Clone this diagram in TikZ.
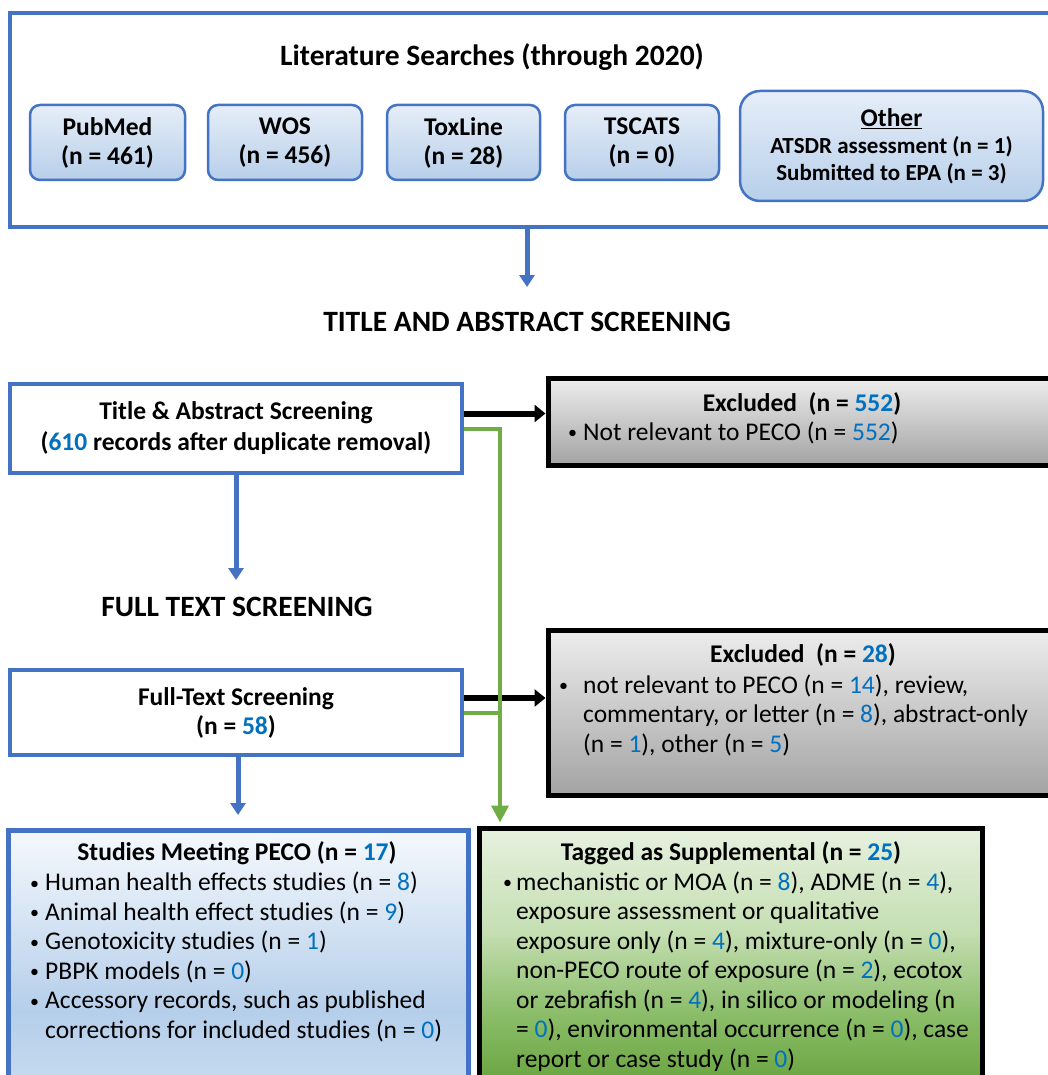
\documentclass[tikz,border=0pt]{standalone}
\usepackage{fontspec}
\setmainfont{Carlito}
\usetikzlibrary{arrows.meta}
\definecolor{bl}{HTML}{4472C4}
\definecolor{num}{HTML}{0070C0}
\definecolor{grn}{HTML}{70AD47}
\definecolor{srcTop}{HTML}{E6EEF8}
\definecolor{srcBot}{HTML}{B7CFEA}
\definecolor{studA}{HTML}{F5F9FD}
\definecolor{studB}{HTML}{B5CEEA}
\definecolor{studC}{HTML}{C8DCF0}
\definecolor{tagA}{HTML}{E6F1DF}
\definecolor{tagB}{HTML}{C4DEB1}
\definecolor{tagC}{HTML}{8CBE6B}
\definecolor{tagD}{HTML}{66A23C}
\pgfdeclareverticalshading{studshade}{100bp}{color(0bp)=(studC); color(25bp)=(studC); color(40bp)=(studB); color(75bp)=(studA); color(100bp)=(studA)}
\pgfdeclareverticalshading{tagshade}{100bp}{color(0bp)=(tagD); color(25bp)=(tagD); color(40bp)=(tagC); color(55bp)=(tagB); color(75bp)=(tagA); color(100bp)=(tagA)}
\newcommand{\nb}[1]{\textcolor{num}{#1}}
\newcommand{\bul}[1]{\makebox[#1][l]{\raisebox{1.5pt}{\fontsize{18}{18}\selectfont •}}}
\newcommand{\ind}[1]{\makebox[#1][l]{}}
\tikzset{
  bigfont/.style={font=\fontsize{29.5}{34}\selectfont\bfseries},
  midbold/.style={font=\fontsize{25.5}{29}\selectfont\bfseries},
  srcbox/.style={draw=bl, line width=2.5pt, rounded corners=10pt, top color=srcTop, bottom color=srcBot, align=center, midbold},
  bluebox/.style={draw=bl, line width=4pt, fill=white, align=center},
  greybox/.style={draw=black, line width=5pt, top color=black!7, bottom color=black!36},
  blarrow/.style={draw=bl, line width=5pt, -{Triangle[length=12pt,width=15pt]}},
  bkarrow/.style={draw=black, line width=6pt, -{Triangle[length=11pt,width=17pt]}},
  grline/.style={draw=grn, line width=4pt},
  grarrow/.style={draw=grn, line width=4pt, -{Triangle[length=17pt,width=17pt]}, shorten >=3pt},
  listtext/.style={font=\fontsize{25.5}{29.5}\selectfont, align=left, inner sep=0pt, anchor=base west},
}
\begin{document}
\begin{tikzpicture}[x=1pt,y=-1pt]
\useasboundingbox (0,0) rectangle (1048,1075);
\clip (0,0) rectangle (1048,1075);

% top section
\node[draw=bl, line width=4pt, minimum width=1050pt, minimum height=214pt] (topbox) at (535,120) {};
\node[bigfont] (littitle) at (492,57) {Literature Searches (through 2020)};
\node[srcbox, minimum width=155pt, minimum height=75pt] (pubmed) at (107.5,142.5) {PubMed\\(n = 461)};
\node[srcbox, minimum width=154pt, minimum height=75pt] (wos) at (285,142.5) {WOS\\(n = 456)};
\node[srcbox, minimum width=153pt, minimum height=75pt] (toxline) at (463.5,142.5) {ToxLine\\(n = 28)};
\node[srcbox, minimum width=154pt, minimum height=75pt] (tscats) at (642,142.5) {TSCATS\\(n = 0)};
\node[srcbox, rounded corners=20pt, minimum width=303pt, minimum height=110pt, font=\fontsize{23}{27}\selectfont\bfseries] (other) at (891.5,146) {{\fontsize{25.5}{27}\selectfont\underline{Other}}\\ATSDR assessment (n = 1)\\Submitted to EPA (n = 3)};

\coordinate (a1end) at (527,287);
\draw[blarrow] (topbox.south -| a1end) -- (a1end);
\node[bigfont] (tashead) at (527,322) {TITLE AND ABSTRACT SCREENING};

% title & abstract
\node[bluebox, font=\fontsize{25.5}{31}\selectfont\bfseries, minimum width=452pt, minimum height=89pt] (tabox) at (236,428.5) {Title \& Abstract Screening\\(\nb{610} records after duplicate removal)};
\node[greybox, minimum width=508pt, minimum height=87pt] (excl1) at (802,421.5) {};
\node[midbold] (excl1t) at (802,404) {Excluded\ \ (n = \nb{552})};
\node[listtext] (excl1l) at (568,440) {\bul{15pt}Not relevant to PECO (n = \nb{552})};
\draw[bkarrow] ([yshift=15pt]tabox.east) -- ([yshift=15pt]tabox.east -| excl1.west);

\coordinate (gx) at (500,0);

% full text
\coordinate (a2end) at (236,580);
\draw[blarrow] (tabox.south -| a2end) -- (a2end);
\node[bigfont] (fthead) at (237,607) {FULL TEXT SCREENING};
\node[bluebox, midbold, minimum width=452pt, minimum height=85pt] (ftbox) at (236,712.5) {Full-Text Screening\\(n = \nb{58})};
\node[greybox, minimum width=508pt, minimum height=165pt] (excl2) at (802,712.5) {};
\node[midbold] (excl2t) at (803,655) {Excluded\ \ (n = \nb{28})};
\node[listtext] (excl2l) at (559,752) {\bul{24pt}not relevant to PECO (n = \nb{14}), review,\\
\ind{24pt}commentary, or letter (n = \nb{8}), abstract-only\\
\ind{24pt}(n = \nb{1}), other (n = \nb{5})};
\draw[bkarrow] ([yshift=14.5pt]ftbox.east) -- ([yshift=14.5pt]ftbox.east -| excl2.west);

% studies
\coordinate (a3end) at (238,815);
\draw[blarrow] (ftbox.south -| a3end) -- (a3end);
\node[draw=bl, line width=5pt, shading=studshade, minimum width=460pt, minimum height=260pt] (studbox) at (238,960) {};
\node[midbold] (studt) at (237,853) {Studies Meeting PECO (n = \nb{17})};
\node[listtext] (studl) at (30,1038) {\bul{15pt}Human health effects studies (n = \nb{8})\\
\bul{15pt}Animal health effect studies (n = \nb{9})\\
\bul{15pt}Genotoxicity studies (n = \nb{1})\\
\bul{15pt}PBPK models (n = \nb{0})\\
\bul{15pt}Accessory records, such as published\\
\ind{15pt}corrections for included studies (n = \nb{0})};

% supplemental
\node[draw=black, line width=5pt, shading=tagshade, minimum width=503pt, minimum height=262pt] (tagbox) at (730.5,959) {};
\node[midbold] (tagt) at (731,853) {Tagged as Supplemental (n = \nb{25})};
\node[listtext] (tagl) at (503,1067) {\bul{13pt}mechanistic or MOA (n = \nb{8}), ADME (n = \nb{4}),\\
\ind{13pt}exposure assessment or qualitative\\
\ind{13pt}exposure only (n = \nb{4}), mixture-only (n = \nb{0}),\\
\ind{13pt}non-PECO route of exposure (n = \nb{2}), ecotox\\
\ind{13pt}or zebrafish (n = \nb{4}), in silico or modeling (n\\
\ind{13pt}= \nb{0}), environmental occurrence (n = \nb{0}), case\\
\ind{13pt}report or case study (n = \nb{0})};

% green connectors
\draw[grarrow] (tabox.east) -- (tabox.east -| gx) -- (gx |- tagbox.north);
\draw[grline] (ftbox.east) -- (ftbox.east -| gx);
\end{tikzpicture}
\end{document}
